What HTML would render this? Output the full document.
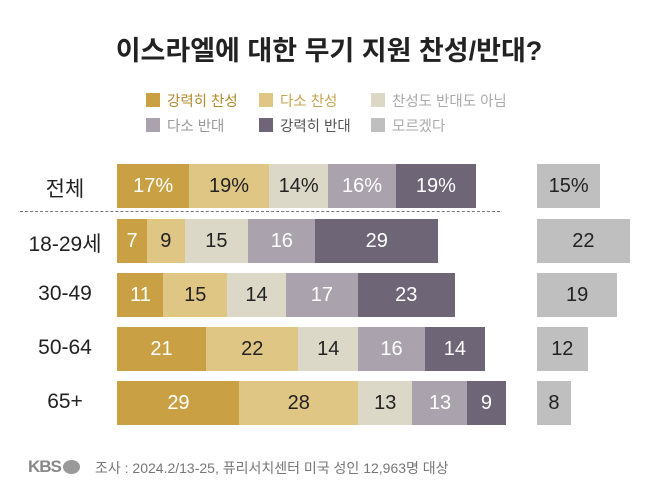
<!DOCTYPE html><html><head><meta charset="utf-8"><style>
body{margin:0;width:658px;height:500px;background:#fff;font-family:"Liberation Sans","Noto Sans CJK KR",sans-serif;position:relative;overflow:hidden}
.a{position:absolute}
.t{left:0;width:658px;top:29px;text-align:center;font-size:27px;font-weight:bold;color:#222}
.sq{width:14px;height:14px}
.lg{font-size:14.5px}
.bar{position:absolute;height:44px;display:flex;align-items:center;justify-content:center;font-size:20px;color:#222}
.w{color:#fff}
.lab{position:absolute;left:10px;width:110px;text-align:center;font-size:21px;color:#222}
</style></head><body>
<div class="a t">이스라엘에 대한 무기 지원 찬성/반대?</div>
<div class="a sq" style="left:146px;top:93px;background:#c9a144"></div><div class="a lg" style="left:167px;top:90px;color:#b08a2e">강력히 찬성</div>
<div class="a sq" style="left:259px;top:93px;background:#dfc685"></div><div class="a lg" style="left:280px;top:90px;color:#c6a350">다소 찬성</div>
<div class="a sq" style="left:371px;top:93px;background:#dcd8c8"></div><div class="a lg" style="left:392px;top:90px;color:#aaa">찬성도 반대도 아님</div>
<div class="a sq" style="left:146px;top:118px;background:#aaa3ae"></div><div class="a lg" style="left:167px;top:115px;color:#999">다소 반대</div>
<div class="a sq" style="left:259px;top:118px;background:#6e6677"></div><div class="a lg" style="left:280px;top:115px;color:#555">강력히 반대</div>
<div class="a sq" style="left:371px;top:118px;background:#c0bfc0"></div><div class="a lg" style="left:392px;top:115px;color:#aaa">모르겠다</div>
<div class="a" style="left:20px;top:211px;width:480px;border-top:1.5px dashed #777"></div>
<div id="c"></div>
<div class="a" style="left:28px;top:457px;font-size:17px;font-weight:bold;color:#888;letter-spacing:-1px">KBS</div>
<div class="a" style="left:63px;top:460px;width:17px;height:14px;border-radius:50%;background:#999"></div>
<div class="a" style="left:95px;top:458px;font-size:14px;color:#777">조사 : 2024.2/13-25, 퓨리서치센터 미국 성인 12,963명 대상</div>
<script>
var rows=[["전체",164,[17,19,14,16,19],15,1],["18-29세",219,[7,9,15,16,29],22,0],["30-49",273,[11,15,14,17,23],19,0],["50-64",327,[21,22,14,16,14],12,0],["65+",381,[29,28,13,13,9],8,0]];
var cols=["#c9a144","#dfc685","#dcd8c8","#aaa3ae","#6e6677"];var wt=[1,0,0,1,1];
var k=4.22,h="";
rows.forEach(function(r){h+='<div class="lab" style="top:'+(r[1]+9)+'px">'+r[0]+'</div>';var x=117;
r[2].forEach(function(v,i){var w=v*k;h+='<div class="bar'+(wt[i]?' w':'')+'" style="left:'+x+'px;top:'+r[1]+'px;width:'+(w+0.5)+'px;background:'+cols[i]+'">'+v+(r[4]?'%':'')+'</div>';x+=w;});
h+='<div class="bar" style="left:537px;top:'+r[1]+'px;width:'+(r[3]*k)+'px;background:#c0bfc0">'+r[3]+(r[4]?'%':'')+'</div>';});
document.getElementById("c").innerHTML=h;
</script>
</body></html>
